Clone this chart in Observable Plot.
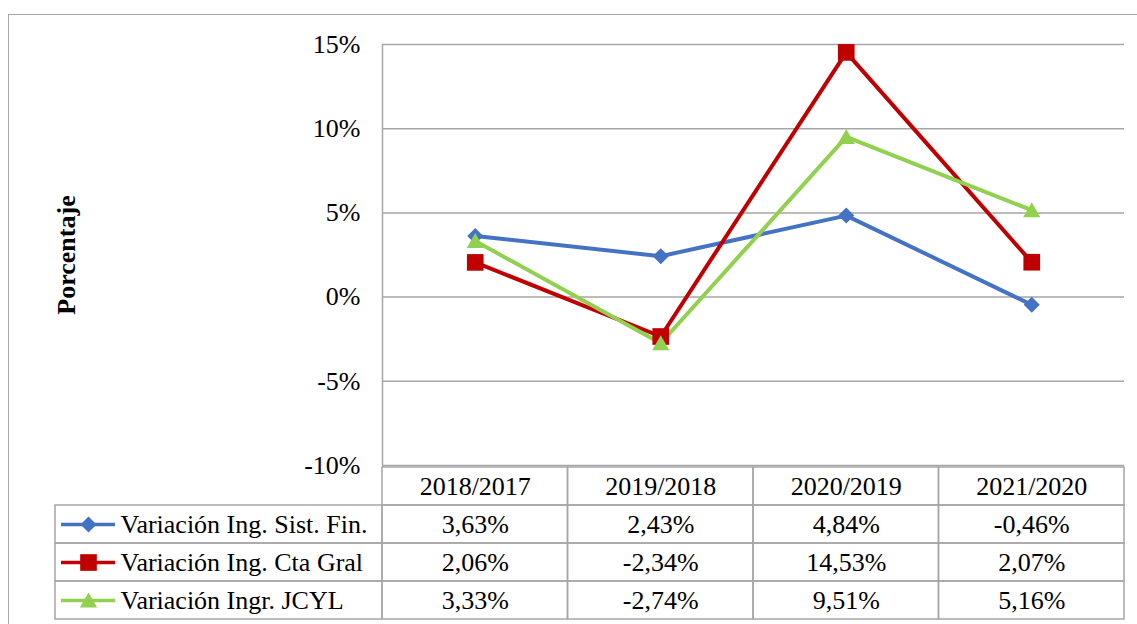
<!DOCTYPE html>
<html><head><meta charset="utf-8">
<script src="https://cdn.jsdelivr.net/npm/d3@7"></script>
<script src="https://cdn.jsdelivr.net/npm/@observablehq/plot@0.6"></script>
<style>
html,body{margin:0;padding:0;background:#fff;}
#wrap{position:relative;width:1137px;height:624px;overflow:hidden;font-family:"Liberation Serif","Times New Roman",serif;}
#frame{position:absolute;left:8px;top:14px;width:1200px;height:700px;border:1.5px solid #a6a6a6;box-sizing:border-box}
#wrap svg{position:absolute;left:0;top:0;font-family:"Liberation Serif",serif !important;}
#wrap svg text{font-family:"Liberation Serif",serif !important;}
</style></head><body><div id="wrap"><div id="frame"></div></div>
<script>
// ---- data ----
const categories = ["2018/2017", "2019/2018", "2020/2019", "2021/2020"];
const seriesNames = ["Variación Ing. Sist. Fin.", "Variación Ing. Cta Gral", "Variación Ingr. JCYL"];
const sistFin = [3.63, 2.43, 4.84, -0.46];
const ctaGral = [2.06, -2.34, 14.53, 2.07];
const jcyl = [3.33, -2.74, 9.51, 5.16];
const yTicks = [-10, -5, 0, 5, 10, 15];
const yTitle = "Porcentaje";

// ---- styling ----
const colors = ["#4472C4", "#C00000", "#92D050"];
const symbols = ["diamond2", "square", "triangle"];
const symbolR = [7.2, 9.4, 6.4];
const symbolDy = [0, 0, 2];
const grid = "#a6a6a6";
const font = "'Liberation Serif', serif";

const values = [sistFin, ctaGral, jcyl];
const long = [];
seriesNames.forEach((s, si) => values[si].forEach((v, ci) => long.push({series: s, si, cat: categories[ci], ci, value: v})));
const fmt = v => v.toFixed(2).replace(".", ",") + "%";

const wrap = document.getElementById("wrap");

// ---- chart ----
const chart = Plot.plot({
  width: 1137, height: 624,
  marginLeft: 382, marginRight: 13, marginTop: 44, marginBottom: 159,
  style: {background: "transparent", fontFamily: font, fontSize: "26px", color: "#000", overflow: "visible"},
  x: {domain: [0, categories.length], axis: null},
  y: {domain: [-10, 15], ticks: yTicks, tickFormat: d => `${d}%`, tickSize: 0, tickPadding: 22, label: null},
  marks: [
    Plot.ruleY(yTicks, {stroke: grid, strokeWidth: 1.5}),
    Plot.ruleX([0], {stroke: grid, strokeWidth: 1.5}),
    Plot.text([yTitle], {frameAnchor: "left", textAnchor: "middle", dx: -316, rotate: -90, fontWeight: "bold", fontSize: 26, fill: "#000"}),
    ...seriesNames.map((s, si) => Plot.line(long.filter(d => d.si === si), {x: d => d.ci + 0.5, y: "value", stroke: colors[si], strokeWidth: 4})),
    ...seriesNames.map((s, si) => Plot.dot(long.filter(d => d.si === si), {x: d => d.ci + 0.5, y: "value", symbol: () => symbols[si], r: symbolR[si], fill: colors[si], stroke: "none", dy: symbolDy[si]}))
  ]
});
wrap.appendChild(chart);

// ---- data table ----
const rows = ["hdr", ...seriesNames];
const colPx = (1124 - 382) / 4;          // pixel width of one category column
const labelSpan = (382 - 55) / colPx;    // label column width in column units
const u = px => -labelSpan + px / colPx; // offset inside label column -> x units

const cells = [];
categories.forEach((c, ci) => cells.push({x1: ci, x2: ci + 1, row: "hdr"}));
seriesNames.forEach(s => {
  cells.push({x1: -labelSpan, x2: 0, row: s});
  categories.forEach((c, ci) => cells.push({x1: ci, x2: ci + 1, row: s}));
});

const table = Plot.plot({
  width: 1137, height: 624,
  marginLeft: 382, marginRight: 13, marginTop: 466, marginBottom: 5,
  style: {background: "transparent", fontFamily: font, fontSize: "26px", color: "#000", overflow: "visible"},
  x: {domain: [0, categories.length], axis: null},
  y: {type: "band", domain: rows, padding: 0, axis: null},
  marks: [
    Plot.barX(cells, {x1: "x1", x2: "x2", y: "row", fill: "none", stroke: grid, strokeWidth: 1.5}),
    Plot.text(categories, {x: (d, i) => i + 0.5, y: () => "hdr", text: d => d, fontSize: 26, fill: "#000"}),
    Plot.text(long, {x: d => d.ci + 0.5, y: "series", text: d => fmt(d.value), fontSize: 26, fill: "#000"}),
    Plot.text(seriesNames, {x: () => u(65), y: d => d, text: d => d, textAnchor: "start", fontSize: 26, fill: "#000"}),
    ...seriesNames.map((s, si) => Plot.ruleY([s], {y: d => d, x1: u(6), x2: u(60), stroke: colors[si], strokeWidth: 3.5})),
    ...seriesNames.map((s, si) => Plot.dot([s], {y: d => d, x: u(33), symbol: () => symbols[si], r: symbolR[si], fill: colors[si], stroke: "none", dy: symbolDy[si]}))
  ]
});
wrap.appendChild(table);
</script></body></html>
